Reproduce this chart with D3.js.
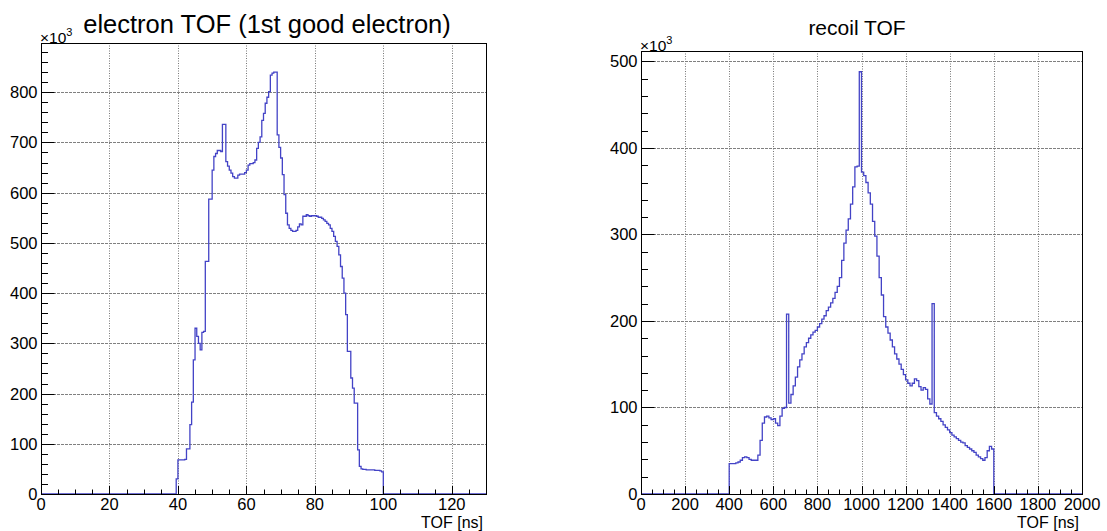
<!DOCTYPE html>
<html>
<head>
<meta charset="utf-8">
<script src="https://cdn.jsdelivr.net/npm/d3@7"></script>
<style>
  body { margin: 0; background: #fff; }
  text { font-family: "Liberation Sans", Arial, Helvetica, sans-serif; fill: #000; }
</style>
</head>
<body>
<svg id="canvas" width="1107" height="531"></svg>
<script>
// ---- electron TOF: 0.5 ns bins, counts in thousands ----
const electronStart = 39.5;
const electronBinWidth = 0.5;
const electronCounts = [
  30, 68, 68, 68, 68, 69, 90, 90, 138, 183,          // 39.5 - 44.0
  267, 330, 314, 300, 287, 322, 324, 463, 463, 587,  // 44.5 - 49.0
  587, 645, 672, 678, 684, 684, 682, 736, 736, 662,  // 49.5 - 54.0
  653, 645, 639, 632, 629, 629, 635, 637, 637, 637,  // 54.5 - 59.0
  640, 645, 655, 658, 658, 660, 665, 688, 700, 711,  // 59.5 - 64.0
  744, 758, 778, 790, 801, 834, 838, 840, 840, 715,  // 64.5 - 69.0
  690, 669, 636, 596, 559, 536, 529, 525, 523, 523,  // 69.5 - 74.0
  525, 532, 538, 536, 553, 553, 556, 554, 553, 554,  // 74.5 - 79.0
  554, 554, 553, 551, 551, 549, 546, 543, 539, 536,  // 79.5 - 84.0
  529, 523, 513, 503, 493, 476, 453, 430, 400, 357,  // 84.5 - 89.0
  284, 284, 231, 211, 181, 181, 88, 55, 50, 49,      // 89.5 - 94.0
  49, 48, 48, 48, 48, 48, 47, 47, 47, 46, 44         // 94.5 - 99.5
];
const electronXTicks = [0, 20, 40, 60, 80, 100, 120];
const electronYTicks = [0, 100, 200, 300, 400, 500, 600, 700, 800];

// ---- recoil TOF: 10 ns bins, counts in thousands ----
const recoilStart = 400;
const recoilBinWidth = 10;
const recoilCounts = [
  35, 35, 35, 36, 37, 39, 42, 43, 42, 40,            // 400 - 490
  39, 39, 39, 45, 62, 82, 89, 90, 88, 86,            // 500 - 590
  87, 82, 79, 90, 99, 100, 208, 105, 115, 125,       // 600 - 690
  135, 147, 155, 162, 170, 175, 180, 184, 187, 189,  // 700 - 790
  193, 197, 202, 206, 212, 216, 221, 226, 233, 240,  // 800 - 890
  250, 270, 290, 305, 318, 335, 355, 378, 379, 488,  // 900 - 990
  372, 368, 360, 348, 335, 315, 298, 275, 250, 230,  // 1000 - 1090
  205, 193, 186, 178, 170, 162, 156, 150, 144, 138,  // 1100 - 1190
  132, 128, 125, 128, 133, 131, 124, 120, 123, 121,  // 1200 - 1290
  110, 104, 220, 94, 90, 87, 84, 80, 77, 74,         // 1300 - 1390
  71, 68, 66, 64, 62, 60, 59, 56, 54, 52,            // 1400 - 1490
  50, 48, 45, 43, 41, 39, 42, 50, 55, 52             // 1500 - 1590
];
const recoilXTicks = [0, 200, 400, 600, 800, 1000, 1200, 1400, 1600, 1800, 2000];
const recoilYTicks = [0, 100, 200, 300, 400, 500];

const svg = d3.select("#canvas");
svg.append("rect").attr("width", 1107).attr("height", 531).attr("fill", "#fff");

function drawPanel(cfg) {
  const g = svg.append("g");
  const x = d3.scaleLinear().domain(cfg.xDomain).range([cfg.left, cfg.right]);
  const y = d3.scaleLinear().domain(cfg.yDomain).range([cfg.bottom, cfg.top]);

  // grid
  g.selectAll(".hgrid").data(cfg.yTicks.filter(d => d > 0)).join("line")
    .attr("x1", cfg.left).attr("x2", cfg.right)
    .attr("y1", d => Math.round(y(d)) + 0.5).attr("y2", d => Math.round(y(d)) + 0.5)
    .attr("stroke", "#808080").attr("stroke-width", 1).attr("stroke-dasharray", "3,1");
  g.selectAll(".vgrid").data(cfg.xTicks.filter(d => d > cfg.xDomain[0] && d < cfg.xDomain[1])).join("line")
    .attr("x1", d => Math.round(x(d)) + 0.5).attr("x2", d => Math.round(x(d)) + 0.5)
    .attr("y1", cfg.top).attr("y2", cfg.bottom)
    .attr("stroke", "#777").attr("stroke-width", 1).attr("stroke-dasharray", "1,1.5");

  // histogram outline
  const pts = [[cfg.xDomain[0], 0]];
  cfg.counts.forEach((c, i) => pts.push([cfg.start + i * cfg.binWidth, c]));
  pts.push([cfg.start + cfg.counts.length * cfg.binWidth, 0]);
  pts.push([cfg.xDomain[1], 0]);
  const line = d3.line().x(d => x(d[0])).y(d => y(d[1])).curve(d3.curveStepAfter);
  g.append("path").attr("d", line(pts))
    .attr("fill", "none").attr("stroke", "#4343c6").attr("stroke-width", 1.3);

  // ticks (inside the frame)
  const xMinor = d3.range(cfg.xDomain[0], cfg.xDomain[1] + 1e-9, cfg.xMinorStep);
  g.selectAll(".xt").data(xMinor).join("line")
    .attr("x1", d => Math.round(x(d)) + 0.5).attr("x2", d => Math.round(x(d)) + 0.5)
    .attr("y1", cfg.bottom)
    .attr("y2", d => cfg.bottom - (cfg.xTicks.includes(Math.round(d * 1000) / 1000) ? 8 : 4.5))
    .attr("stroke", "#000").attr("stroke-width", 1);
  const yMinor = d3.range(0, cfg.yDomain[1], cfg.yMinorStep);
  g.selectAll(".yt").data(yMinor).join("line")
    .attr("x1", cfg.left)
    .attr("x2", d => cfg.left + (cfg.yTicks.includes(d) ? 13.5 : 7))
    .attr("y1", d => Math.round(y(d)) + 0.5).attr("y2", d => Math.round(y(d)) + 0.5)
    .attr("stroke", "#000").attr("stroke-width", 1);

  // frame
  g.append("rect").attr("x", cfg.left + 0.5).attr("y", cfg.top + 0.5)
    .attr("width", cfg.right - cfg.left).attr("height", cfg.bottom - cfg.top)
    .attr("fill", "none").attr("stroke", "#000").attr("stroke-width", 1);

  // tick labels
  g.selectAll(".xl").data(cfg.xTicks).join("text")
    .attr("x", d => x(d)).attr("y", cfg.bottom + 16)
    .attr("text-anchor", "middle").attr("font-size", 16.5).text(d => d);
  g.selectAll(".yl").data(cfg.yTicks).join("text")
    .attr("x", cfg.left - 3.5).attr("y", d => y(d) + 6)
    .attr("text-anchor", "end").attr("font-size", 16.5).text(d => d);

  // exponent label
  const ex = g.append("text").attr("x", cfg.left - 1).attr("y", cfg.top - 0.5).attr("font-size", 15.5);
  ex.append("tspan").text("\u00d710");
  ex.append("tspan").attr("dy", -7).attr("font-size", 11).text("3");

  // axis title
  g.append("text").attr("x", cfg.right - 3).attr("y", cfg.bottom + 34)
    .attr("text-anchor", "end").attr("font-size", 16).text("TOF [ns]");

  // panel title
  g.append("text").attr("x", cfg.titleX).attr("y", cfg.titleY)
    .attr("text-anchor", "middle").attr("font-size", cfg.titleSize).text(cfg.title);
}

drawPanel({
  left: 41, right: 486, top: 43, bottom: 494,
  xDomain: [0, 130], yDomain: [0, 898],
  xTicks: electronXTicks, yTicks: electronYTicks, xMinorStep: 5, yMinorStep: 20,
  start: electronStart, binWidth: electronBinWidth, counts: electronCounts,
  title: "electron TOF (1st good electron)", titleSize: 25.5, titleX: 267, titleY: 33
});

drawPanel({
  left: 641, right: 1082, top: 51, bottom: 494,
  xDomain: [0, 2000], yDomain: [0, 512],
  xTicks: recoilXTicks, yTicks: recoilYTicks, xMinorStep: 50, yMinorStep: 20,
  start: recoilStart, binWidth: recoilBinWidth, counts: recoilCounts,
  title: "recoil TOF", titleSize: 21, titleX: 857, titleY: 34.5
});
</script>
</body>
</html>
